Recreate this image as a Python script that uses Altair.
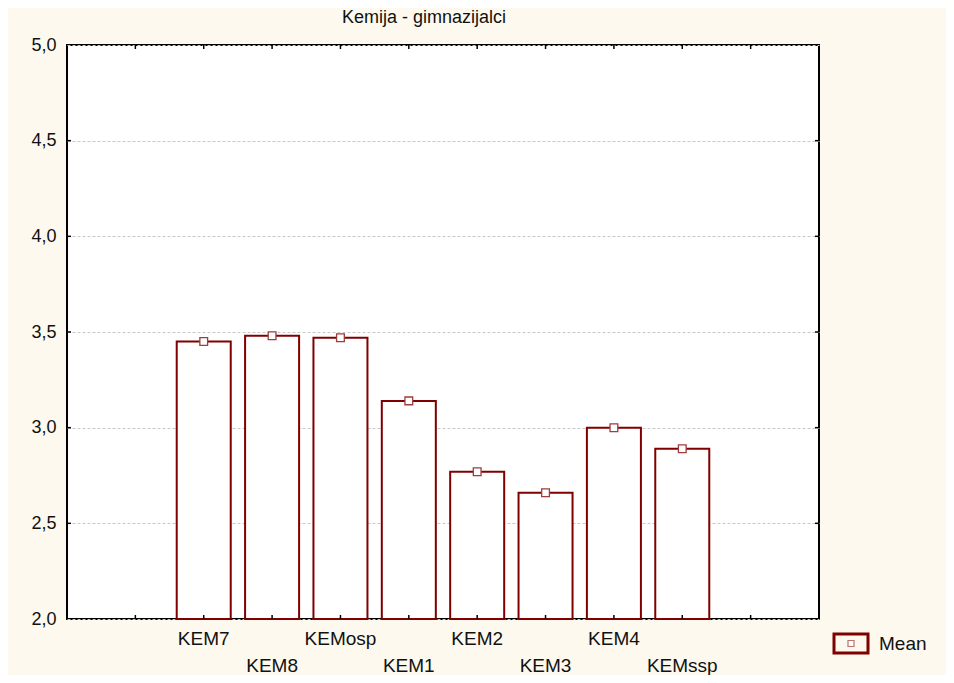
import altair as alt
import pandas as pd

# ---- data ----
categories = ["KEM7", "KEM8", "KEMosp", "KEM1", "KEM2", "KEM3", "KEM4", "KEMssp"]
slots = [2, 3, 4, 5, 6, 7, 8, 9]          # slot index on an 11-slot axis
means = [3.45, 3.48, 3.47, 3.14, 2.77, 2.66, 3.00, 2.89]
label_rows = [1, 2, 1, 2, 1, 2, 1, 2]
x_tick_slots = [1, 2, 3, 4, 5, 6, 7, 8, 9, 10]
y_ticks = [2.0, 2.5, 3.0, 3.5, 4.0, 4.5, 5.0]
inner_y_ticks = [2.5, 3.0, 3.5, 4.0, 4.5]
title_text = ["Kemija - gimnazijalci"]
legend_label = ["Mean"]

df = pd.DataFrame({"cat": categories, "slot": slots, "mean": means, "row": label_rows})
xt = pd.DataFrame({"slot": x_tick_slots})
yt = pd.DataFrame({"v": inner_y_ticks})
leg = pd.DataFrame({"label": legend_label})
ttl = pd.DataFrame({"t": title_text})

W, H = 752, 574
DARK = "#800000"
FONT = "Liberation Sans"
TXT = "#111111"

xs = alt.Scale(domain=[0, 11], nice=False, zero=False)
ys = alt.Scale(domain=[2, 5], nice=False, zero=False)

base = alt.Chart(df)

bars = base.transform_calculate(
    x0="datum.slot - 0.395", x1="datum.slot + 0.395", b="2"
).mark_rect(fill="white", stroke=DARK, strokeWidth=2).encode(
    x=alt.X("x0:Q", scale=xs, axis=None),
    x2="x1:Q",
    y=alt.Y("b:Q", scale=ys, axis=alt.Axis(
        values=y_ticks, title=None, grid=True, gridDash=[3, 2], gridColor="#c8c8c8",
        gridWidth=1, ticks=False, tickSize=0, domain=False, labelPadding=11,
        labelFont=FONT, labelFontSize=18, labelColor=TXT,
        labelExpr="replace(format(datum.value, '.1f'), '.', ',')")),
    y2="mean:Q",
)

points = base.mark_square(size=60, fill="white", stroke="#a03c3c", strokeWidth=1.3, opacity=1).encode(
    x=alt.X("slot:Q", scale=xs, axis=None),
    y=alt.Y("mean:Q", scale=ys),
)

lab1 = base.transform_filter("datum.row == 1").mark_text(
    font=FONT, fontSize=19, color=TXT, baseline="middle", align="center"
).encode(x=alt.X("slot:Q", scale=xs, axis=None), y=alt.value(594), text="cat:N")

lab2 = base.transform_filter("datum.row == 2").mark_text(
    font=FONT, fontSize=19, color=TXT, baseline="middle", align="center"
).encode(x=alt.X("slot:Q", scale=xs, axis=None), y=alt.value(621), text="cat:N")

tick_bot = alt.Chart(xt).mark_rule(color="black", strokeWidth=1.5).encode(
    x=alt.X("slot:Q", scale=xs, axis=None), y=alt.value(H), y2=alt.value(H - 4))
tick_top = alt.Chart(xt).mark_rule(color="black", strokeWidth=1.5).encode(
    x=alt.X("slot:Q", scale=xs, axis=None), y=alt.value(0), y2=alt.value(4))
tick_right = alt.Chart(yt).mark_rule(color="black", strokeWidth=1.5).encode(
    y=alt.Y("v:Q", scale=ys), x=alt.value(W), x2=alt.value(W - 4))
tick_left = alt.Chart(yt).mark_rule(color="black", strokeWidth=1.5).encode(
    y=alt.Y("v:Q", scale=ys), x=alt.value(0), x2=alt.value(4))

title_mark = alt.Chart(ttl).mark_text(
    font=FONT, fontSize=18, color=TXT, align="center", baseline="middle"
).encode(x=alt.value(357), y=alt.value(-27), text="t:N")

leg_box = alt.Chart(leg).mark_rect(fill="#FDF9EE", stroke=DARK, strokeWidth=3).encode(
    x=alt.value(767), x2=alt.value(801), y=alt.value(589), y2=alt.value(608))
leg_sq = alt.Chart(leg).mark_square(size=36, fill="white", stroke="#a03c3c", strokeWidth=1.2).encode(
    x=alt.value(784), y=alt.value(598.5))
leg_txt = alt.Chart(leg).mark_text(
    font=FONT, fontSize=19, color=TXT, align="left", baseline="middle"
).encode(x=alt.value(812), y=alt.value(599), text="label:N")

chart = alt.layer(
    bars, points, lab1, lab2, tick_bot, tick_top, tick_right, tick_left,
    title_mark, leg_box, leg_sq, leg_txt
).properties(
    width=W, height=H,
    autosize=alt.AutoSizeParams(type="none"),
    padding={"left": 59, "top": 37, "right": 127, "bottom": 56},
    background="#FDF9EE",
).configure_view(
    fill="white", stroke="black", strokeWidth=2
)

chart.save("out.html", embed_options={"renderer": "svg", "actions": False})
